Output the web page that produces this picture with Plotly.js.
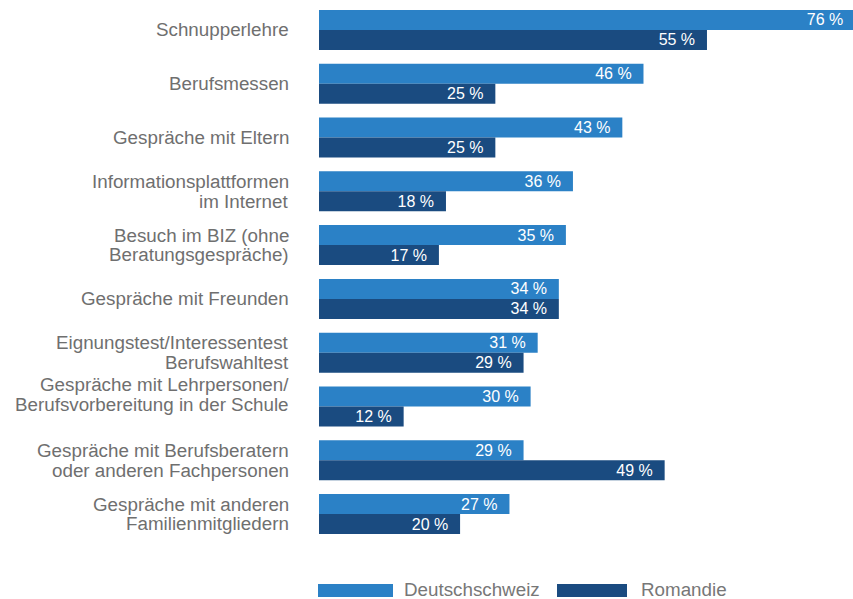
<!DOCTYPE html>
<html>
<head>
<meta charset="utf-8">
<script src="https://cdn.plot.ly/plotly-3.0.1.min.js"></script>
<style>html,body{margin:0;padding:0;background:#fff;}#chart{width:853px;height:599px;}</style>
</head>
<body>
<div id="chart"></div>
<script>
// ---- data ----
const categories = [
  'Schnupperlehre',
  'Berufsmessen',
  'Gespräche mit Eltern',
  'Informationsplattformen\nim Internet',
  'Besuch im BIZ (ohne\nBeratungsgespräche)',
  'Gespräche mit Freunden',
  'Eignungstest/Interessentest\nBerufswahltest',
  'Gespräche mit Lehrpersonen/\nBerufsvorbereitung in der Schule',
  'Gespräche mit Berufsberatern\noder anderen Fachpersonen',
  'Gespräche mit anderen\nFamilienmitgliedern'
];
const deutschschweiz = [76, 46, 43, 36, 35, 34, 31, 30, 29, 27];
const romandie = [55, 25, 25, 18, 17, 34, 29, 12, 49, 20];
const seriesNames = ['Deutschschweiz', 'Romandie'];

// ---- style ----
const colors = ['#2b81c6', '#1a4b80'];
const FONT = 'Liberation Sans, Arial, Helvetica, sans-serif';
const labelColor = '#6f6f6f';
const W = 853, H = 599;
const M = {l: 319, r: 0, t: 3, b: 58};
const PW = W - M.l - M.r, PH = H - M.t - M.b;
const px2x = p => (p - M.l) / PW;
const px2y = p => (H - M.b - p) / PH;
const lineGap = 19.5;
const labelNudge = {7: 12}; // original chart has this label set a bit higher

const fmt = v => v + ' %\u00a0\u00a0';

const traces = [deutschschweiz, romandie].map((vals, k) => ({
  type: 'bar',
  orientation: 'h',
  name: seriesNames[k],
  y: categories,
  x: vals,
  text: vals.map(fmt),
  textposition: 'inside',
  insidetextanchor: 'end',
  constraintext: 'none',
  textfont: {color: '#ffffff', size: 16, family: FONT},
  marker: {color: colors[k], line: {width: 0}},
  hoverinfo: 'none',
  showlegend: false
}));

const annotations = [];
categories.forEach((c, i) => {
  const lines = c.split('\n');
  const n = lines.length;
  lines.forEach((ln, j) => {
    annotations.push({
      xref: 'paper', yref: 'y', x: 0, y: c,
      xanchor: 'right', yanchor: 'middle',
      xshift: -28,
      yshift: -(j - (n - 1) / 2) * lineGap + (labelNudge[i] || 0),
      text: ln, showarrow: false,
      font: {family: FONT, size: 18.8, color: labelColor}
    });
  });
});

// legend (drawn as shapes + text)
const legendItems = [
  {x0: 318, x1: 393, tx: 403},
  {x0: 557, x1: 627, tx: 640}
];
const shapes = [];
legendItems.forEach((it, k) => {
  shapes.push({
    type: 'rect', xref: 'paper', yref: 'paper',
    x0: px2x(it.x0), x1: px2x(it.x1), y0: px2y(597), y1: px2y(584),
    fillcolor: colors[k], line: {width: 0}
  });
  annotations.push({
    xref: 'paper', yref: 'paper', x: px2x(it.tx), y: px2y(589),
    xanchor: 'left', yanchor: 'middle', showarrow: false,
    borderpad: 0,
    text: seriesNames[k],
    font: {family: FONT, size: 18.8, color: '#777777'}
  });
});

const layout = {
  width: W, height: H,
  margin: M,
  paper_bgcolor: '#ffffff', plot_bgcolor: '#ffffff',
  barmode: 'group',
  bargap: 0.256,
  bargroupgap: 0,
  showlegend: false,
  xaxis: {range: [0, 75.7], showgrid: false, zeroline: false, showticklabels: false, showline: false, fixedrange: true},
  yaxis: {type: 'category', autorange: false, range: [categories.length - 0.5, -0.5], showgrid: false, zeroline: false, showticklabels: false, showline: false, fixedrange: true},
  annotations: annotations,
  shapes: shapes,
  font: {family: FONT}
};

Plotly.newPlot('chart', traces, layout, {staticPlot: true, displayModeBar: false});
</script>
</body>
</html>
